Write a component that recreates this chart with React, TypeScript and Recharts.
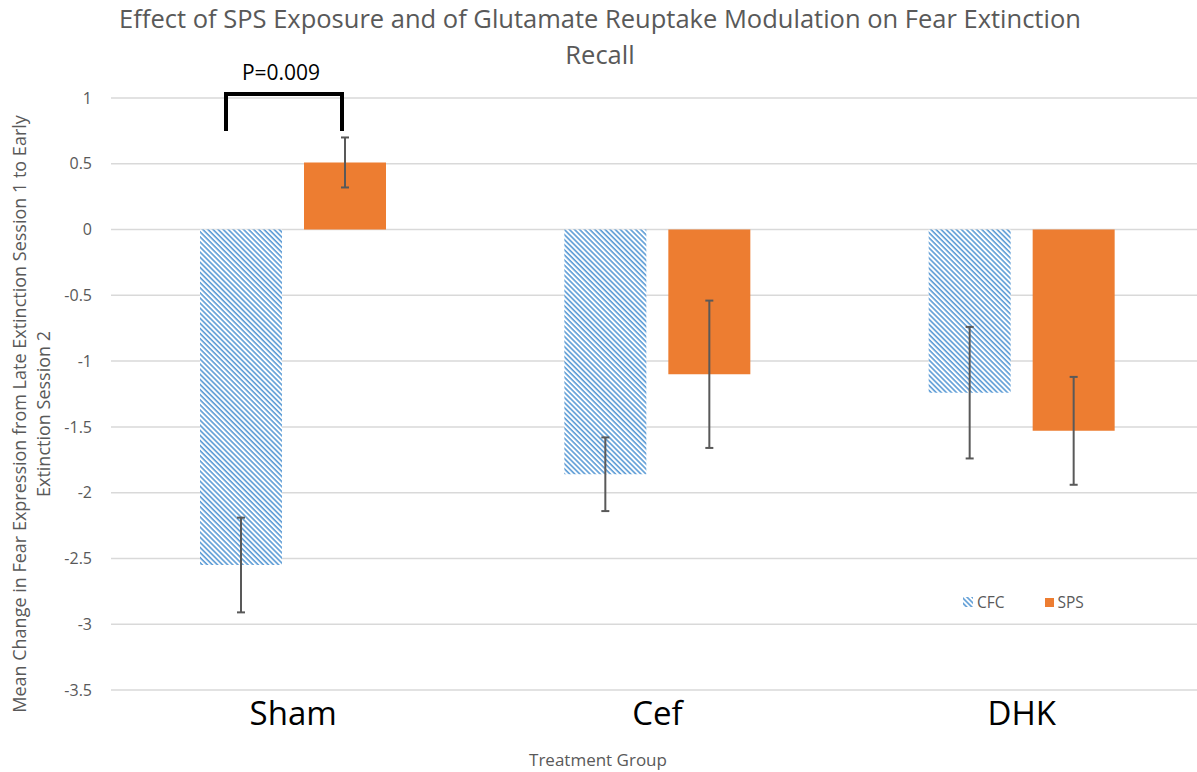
import React from "react";
import { BarChart, Bar, XAxis, YAxis, CartesianGrid, ErrorBar, Rectangle, Label } from "recharts";

const groups = ["Sham", "Cef", "DHK"];
const cfcMeans = [-2.55, -1.86, -1.24];
const cfcErrors = [0.36, 0.28, 0.5];
const spsMeans = [0.51, -1.1, -1.53];
const spsErrors = [0.19, 0.56, 0.41];
const yTicks = [1, 0.5, 0, -0.5, -1, -1.5, -2, -2.5, -3, -3.5];

// significance bracket over the Sham group
const bracketGroup = "Sham";
const bracketLabel = "P=0.009";
const bracketTop = 1.03;
const bracketLegEnd = 0.75;

const FONT = "'Open Sans', sans-serif";
const GRAY = "#595959";
const BLUE = "#5B9BD5";
const ORANGE = "#ED7D31";
const BAR_SIZE = 82;
const BAR_GAP = 22;

const data = groups.map((g, i) => ({
  group: g,
  cfc: cfcMeans[i],
  cfcErr: cfcErrors[i],
  sps: spsMeans[i],
  spsErr: spsErrors[i],
}));

function SpsShape(props: any) {
  const { x, y, width, height, payload, fill } = props;
  const rect = <Rectangle x={x} y={y} width={width} height={height} fill={fill} />;
  if (payload.group !== bracketGroup) return rect;
  const unit = height / payload.sps;
  const zeroY = y + height;
  const topY = zeroY - bracketTop * unit;
  const legY = zeroY - bracketLegEnd * unit;
  const right = x + width / 2 - 3;
  const left = x - BAR_GAP - width / 2 - 15;
  return (
    <g>
      {rect}
      <path
        d={`M${left},${legY} L${left},${topY} L${right},${topY} L${right},${legY}`}
        fill="none"
        stroke="#000"
        strokeWidth={4}
      />
      <text x={(left + right) / 2 - 3} y={topY - 14} textAnchor="middle" fontSize={21} fontFamily={FONT} fill="#000">
        {bracketLabel}
      </text>
    </g>
  );
}

function YTitle(props: any) {
  const { viewBox } = props;
  const cy = viewBox.y + viewBox.height / 2 + 20;
  return (
    <g fontFamily={FONT} fontSize={18} fill={GRAY} textAnchor="middle">
      <text transform={`translate(${viewBox.x + 26},${cy}) rotate(-90)`}>
        Mean Change in Fear Expression from Late Extinction Session 1 to Early
      </text>
      <text transform={`translate(${viewBox.x + 50},${cy}) rotate(-90)`}>Extinction Session 2</text>
    </g>
  );
}

function LegendBox() {
  return (
    <div
      style={{
        position: "absolute",
        left: 963,
        top: 591,
        display: "flex",
        alignItems: "center",
        fontFamily: FONT,
        fontSize: 15.5,
        color: GRAY,
        zIndex: 1,
      }}
    >
      <svg width={10} height={10} style={{ marginRight: 4 }}>
        <rect width={10} height={10} fill="url(#cfcHatch)" />
      </svg>
      <span style={{ marginRight: 40 }}>CFC</span>
      <svg width={9} height={9} style={{ marginRight: 4 }}>
        <rect width={9} height={9} fill={ORANGE} />
      </svg>
      <span>SPS</span>
    </div>
  );
}

export default function App() {
  return (
    <div style={{ position: "absolute", left: 0, top: 0, width: 1197, height: 772, overflow: "hidden", background: "#fff" }}>
      <div
        style={{
          position: "absolute",
          left: 0,
          width: 1200,
          top: 0,
          textAlign: "center",
          fontFamily: FONT,
          fontSize: 25.5,
          lineHeight: "36px",
          color: GRAY,
          zIndex: 1,
        }}
      >
        Effect of SPS Exposure and of Glutamate Reuptake Modulation on Fear Extinction
        <br />
        Recall
      </div>
      <LegendBox />
      <BarChart
        width={1210}
        height={772}
        data={data}
        margin={{ top: 98, right: 6, left: 0, bottom: 0 }}
        barSize={BAR_SIZE}
        barGap={BAR_GAP}
      >
        <defs>
          <pattern id="cfcHatch" width={3.6} height={3.6} patternUnits="userSpaceOnUse" patternTransform="rotate(45)">
            <rect width={3.6} height={3.6} fill="#fff" />
            <rect width={3.6} height={1.6} fill={BLUE} />
          </pattern>
        </defs>
        <CartesianGrid vertical={false} stroke="#D9D9D9" strokeWidth={1.5} />
        <XAxis
          dataKey="group"
          axisLine={false}
          tickLine={false}
          tickSize={0}
          tickMargin={12}
          height={82}
          tick={{ fontSize: 33, fontFamily: FONT, fill: "#000" }}
        >
          <Label
            content={() => (
              <text x={598} y={766} textAnchor="middle" fontFamily={FONT} fontSize={17} fill={GRAY}>
                Treatment Group
              </text>
            )}
          />
        </XAxis>
        <YAxis
          domain={[-3.5, 1]}
          ticks={yTicks}
          width={111}
          axisLine={false}
          tickLine={false}
          tickSize={0}
          tickMargin={19}
          interval={0}
          tick={{ fontSize: 16, fontFamily: FONT, fill: GRAY }}
        >
          <Label content={<YTitle />} />
        </YAxis>
        <Bar dataKey="cfc" name="CFC" fill="url(#cfcHatch)" isAnimationActive={false}>
          <ErrorBar dataKey="cfcErr" stroke={GRAY} strokeWidth={2} width={4} isAnimationActive={false} />
        </Bar>
        <Bar dataKey="sps" name="SPS" fill={ORANGE} shape={<SpsShape />} isAnimationActive={false}>
          <ErrorBar dataKey="spsErr" stroke={GRAY} strokeWidth={2} width={4} isAnimationActive={false} />
        </Bar>
      </BarChart>
    </div>
  );
}
